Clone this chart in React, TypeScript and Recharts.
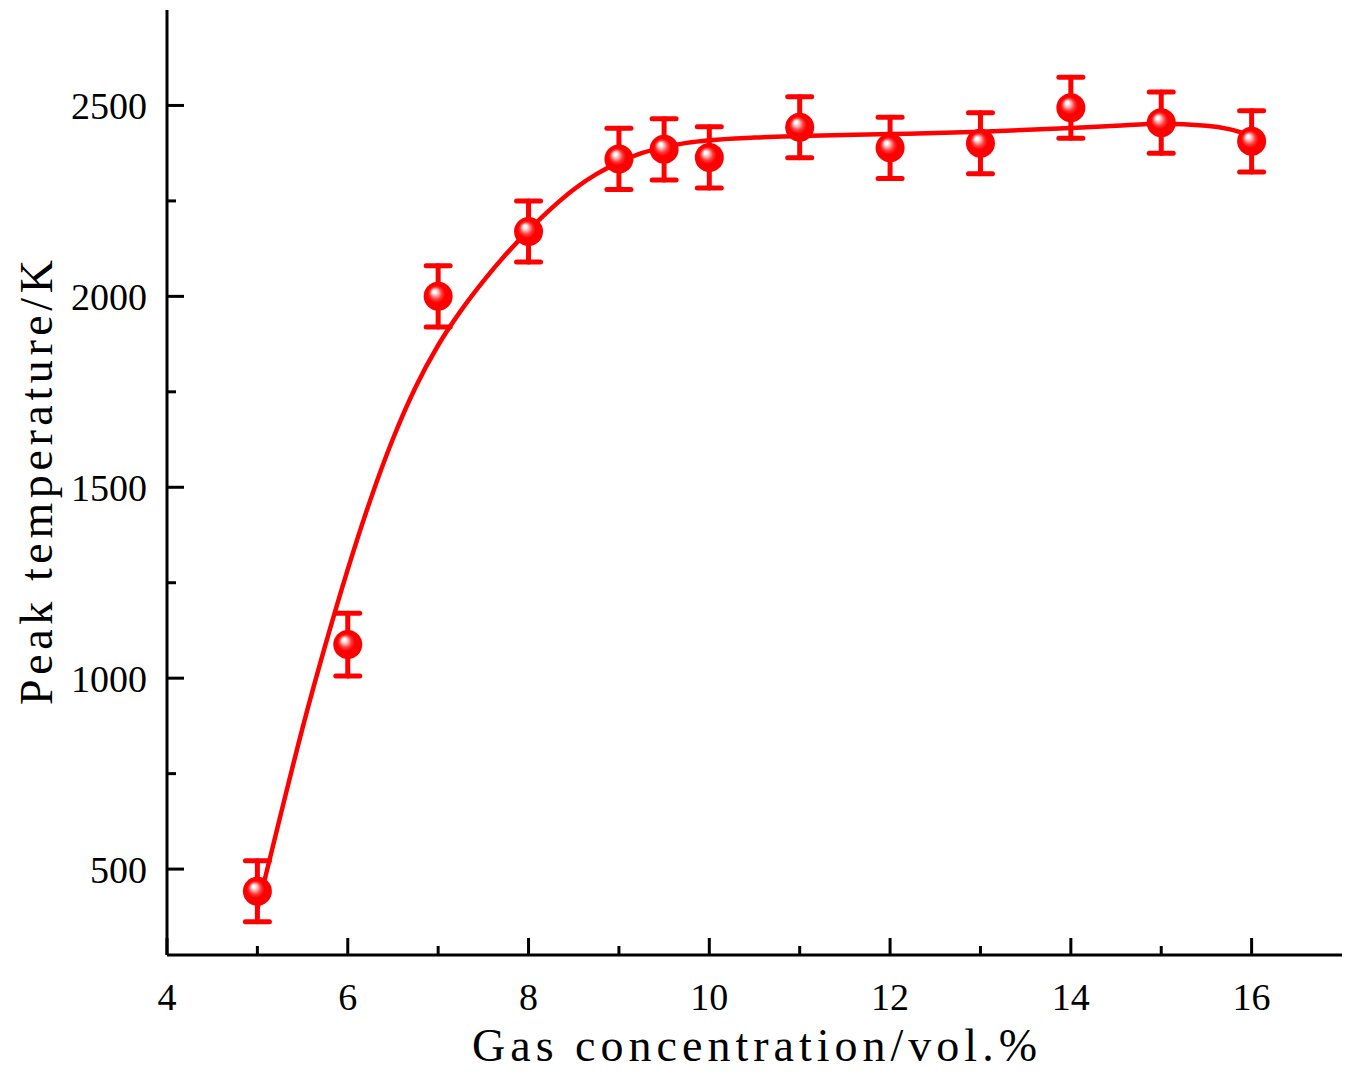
import React from 'react';
import { ComposedChart, Scatter, Line, XAxis, YAxis, ErrorBar } from 'recharts';

// measured points
const concentration = [5, 6, 7, 8, 9, 9.5, 10, 11, 12, 13, 14, 15, 16];
const peakTemp = [442, 1088, 2000, 2170, 2360, 2385, 2364, 2443, 2389, 2401, 2494, 2455, 2406];
const peakErr = [80, 82, 80, 80, 80, 80, 80, 80, 80, 80, 80, 80, 80];

// fitted curve
const fitX = [5, 5.25, 5.5, 5.75, 6, 6.25, 6.5, 6.75, 7, 7.25, 7.5, 7.75, 8, 8.25, 8.5, 8.75, 9, 9.25, 9.5, 9.75, 10, 10.5, 11, 12, 13, 14, 14.5, 15, 15.5, 15.75, 16];
const fitY = [395, 635, 870, 1085, 1285, 1467, 1627, 1762, 1872, 1962, 2040, 2110, 2173, 2230, 2280, 2320, 2351, 2375, 2391, 2402, 2409, 2416, 2420, 2425, 2431, 2441, 2447, 2452, 2447, 2438, 2421];

const xTicks = [4, 5, 6, 7, 8, 9, 10, 11, 12, 13, 14, 15, 16];
const yTicks = [500, 750, 1000, 1250, 1500, 1750, 2000, 2250, 2500];

const points = concentration.map((x, i) => ({ x, y: peakTemp[i], err: peakErr[i] }));
const fit = fitX.map((x, i) => ({ x, y: fitY[i] }));

const RED = '#ff0000';
const FONT = '"Liberation Serif", "Times New Roman", serif';

// plot box
const W = 1349;
const H = 1082;
const AXIS_W = 167;
const AXIS_H = 127;
const TOP = 10;
const RIGHT = 7;
const PLOT_LEFT = AXIS_W;
const PLOT_BOTTOM = H - AXIS_H;

// ticks point inward, majors longer
const XTick = (props: any) => {
  const { x, payload } = props;
  const major = payload.value % 2 === 0;
  const y = PLOT_BOTTOM;
  return (
    <g>
      <line x1={x} x2={x} y1={y} y2={y - (major ? 17 : 9)} stroke="#000" strokeWidth={3} />
      {major && (
        <text x={x} y={y + 55} textAnchor="middle" fontFamily={FONT} fontSize={38} fill="#000">
          {payload.value}
        </text>
      )}
    </g>
  );
};

const YTick = (props: any) => {
  const { y, payload } = props;
  const major = payload.value % 500 === 0;
  const x = PLOT_LEFT;
  return (
    <g>
      <line x1={x} x2={x + (major ? 17 : 9)} y1={y} y2={y} stroke="#000" strokeWidth={3} />
      {major && (
        <text x={x - 20} y={y + 14} textAnchor="end" fontFamily={FONT} fontSize={38} fill="#000">
          {payload.value}
        </text>
      )}
    </g>
  );
};

const XTitle = (props: any) => {
  const vb = props.viewBox;
  return (
    <text
      x={vb.x + vb.width / 2}
      y={vb.y + 106}
      textAnchor="middle"
      fontFamily={FONT}
      fontSize={46}
      textLength={565}
      lengthAdjust="spacing"
      fill="#000"
    >
      Gas concentration/vol.%
    </text>
  );
};

const YTitle = (props: any) => {
  const vb = props.viewBox;
  const cx = 52;
  const cy = vb.y + vb.height / 2;
  return (
    <text
      x={cx}
      y={cy}
      transform={`rotate(-90, ${cx}, ${cy})`}
      textAnchor="middle"
      fontFamily={FONT}
      fontSize={46}
      textLength={445}
      lengthAdjust="spacing"
      fill="#000"
    >
      Peak temperature/K
    </text>
  );
};

const Sphere = (props: any) => {
  const { cx, cy } = props;
  if (cx == null || cy == null) return null;
  return <circle cx={cx} cy={cy} r={14.5} fill="url(#sphereFill)" />;
};

export default function App() {
  return (
    <div style={{ position: 'absolute', left: 0, top: 0, width: W, height: H, background: '#fff' }}>
      <svg width={0} height={0} style={{ position: 'absolute' }}>
        <defs>
          <radialGradient id="sphereFill" cx="0.5" cy="0.5" r="0.5" fx="0.36" fy="0.32">
            <stop offset="0" stopColor="#ffffff" />
            <stop offset="0.1" stopColor="#ffffff" />
            <stop offset="0.24" stopColor="#ffb0b0" />
            <stop offset="0.42" stopColor="#ff3a3a" />
            <stop offset="0.6" stopColor="#ff0000" />
            <stop offset="1" stopColor="#ff0000" />
          </radialGradient>
        </defs>
      </svg>
      <ComposedChart width={W} height={H} margin={{ top: TOP, right: RIGHT, left: 0, bottom: 0 }}>
        <XAxis
          dataKey="x"
          type="number"
          domain={[4, 17]}
          allowDataOverflow
          ticks={xTicks}
          interval={0}
          height={AXIS_H}
          tickSize={0}
          tickMargin={0}
          tickLine={false}
          axisLine={{ stroke: '#000', strokeWidth: 3 }}
          tick={XTick}
          label={XTitle}
        />
        <XAxis
          xAxisId="top"
          orientation="top"
          type="number"
          domain={[4, 17]}
          height={0}
          tick={false}
          tickLine={false}
          axisLine={{ stroke: '#000', strokeWidth: 3 }}
        />
        <YAxis
          dataKey="y"
          type="number"
          domain={[275, 2750]}
          allowDataOverflow
          ticks={yTicks}
          interval={0}
          width={AXIS_W}
          tickSize={0}
          tickMargin={0}
          tickLine={false}
          axisLine={{ stroke: '#000', strokeWidth: 3 }}
          tick={YTick}
          label={YTitle}
        />
        <YAxis
          yAxisId="right"
          orientation="right"
          type="number"
          domain={[275, 2750]}
          width={0}
          tick={false}
          tickLine={false}
          axisLine={{ stroke: '#000', strokeWidth: 3 }}
        />
        <Scatter data={points} dataKey="y" shape={Sphere} isAnimationActive={false}>
          <ErrorBar
            dataKey="err"
            direction="y"
            width={12}
            strokeWidth={5}
            stroke={RED}
            strokeLinecap="round"
          />
        </Scatter>
        <Line
          data={fit}
          dataKey="y"
          type="monotone"
          stroke={RED}
          strokeWidth={4.5}
          dot={false}
          activeDot={false}
          isAnimationActive={false}
        />
      </ComposedChart>
    </div>
  );
}
